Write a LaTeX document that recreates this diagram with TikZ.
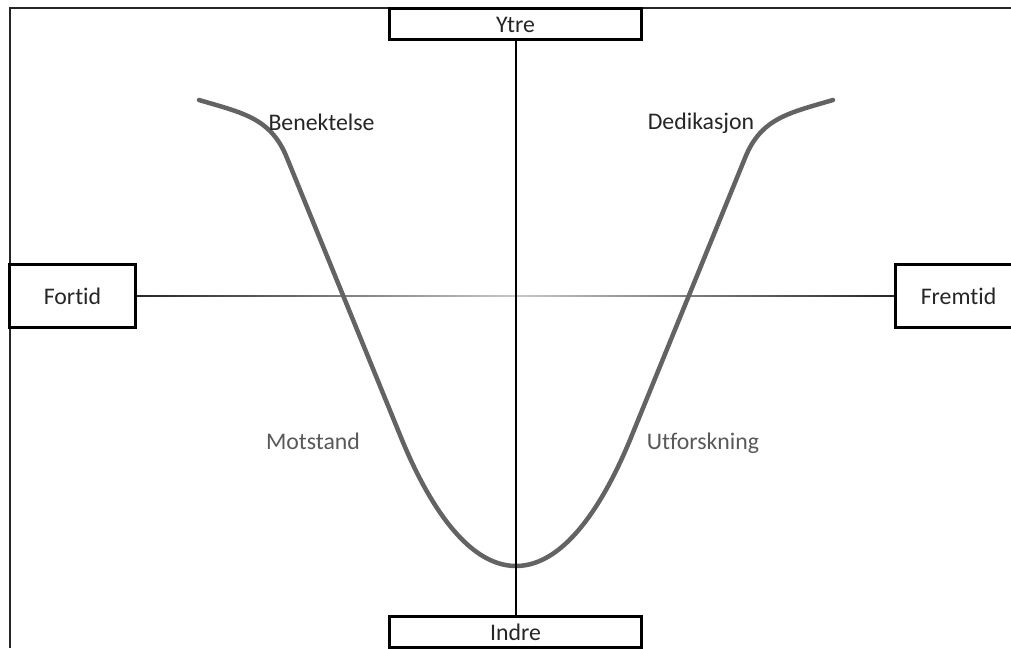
\documentclass[tikz,border=0pt]{standalone}
\usepackage{fontspec}
\setmainfont[Ligatures=CommonOff]{Carlito}
\definecolor{curvegray}{HTML}{636363}
\definecolor{labeldark}{HTML}{262626}
\definecolor{labelgray}{HTML}{595959}
\tikzset{
  boxnode/.style={draw=black, line width=3pt, fill=white, inner sep=0pt,
    font=\fontsize{23.8}{28}\selectfont, text=labeldark,
    text height=17pt, text depth=0pt, align=center},
  wideboxnode/.style={boxnode, minimum width=252pt, minimum height=31.5pt},
  sideboxnode/.style={boxnode, minimum width=126pt, minimum height=63pt},
  phaselabel/.style={inner sep=0pt, anchor=base, font=\fontsize{23.8}{28}\selectfont},
  framestroke/.style={line width=1.8pt, draw=black!85},
  axisstroke/.style={line width=2pt, draw=black},
  journey/.style={line width=4.5pt, draw=curvegray, line cap=round, line join=round}
}
\begin{document}
\begin{tikzpicture}[x=1pt, y=-1pt]
\clip (0,0) rectangle (1011,648);
\fill[white] (0,0) rectangle (1011,648);
% frame
\coordinate (FTL) at (10,8);
\coordinate (FTR) at (1011,8);
\coordinate (FBL) at (10,648);
\draw[framestroke] (FTR) -- (FTL) -- (FBL);
% center
\coordinate (O) at (516,296);
% boxes
\node[wideboxnode] (Ytre) at (515.5,24.2) {Ytre};
\node[wideboxnode] (Indre) at (515.5,632.2) {Indre};
\node[sideboxnode] (Fortid) at (72.5,296) {Fortid};
\node[sideboxnode] (Fremtid) at (958.5,296) {Fremtid};
% horizontal axis with gradient
\shade[left color=black!85, right color=black!22]
  ([yshift=-0.9pt]Fortid.east) rectangle ([yshift=0.9pt]O);
\shade[left color=black!22, right color=black!85]
  ([yshift=-0.9pt]O) rectangle ([yshift=0.9pt]Fremtid.west);
% curve
\coordinate (CL) at (199,100);
\coordinate (CR) at (833,100);
\draw[journey] (CL) .. controls (243,113) and (271,118) .. (287,158)
  -- (400,435) .. controls (425,497) and (465,566) .. (516,566)
  .. controls (567,566) and (607,497) .. (632,435)
  -- (745,158) .. controls (761,118) and (789,113) .. (CR);
% vertical axis
\draw[axisstroke] (Ytre.south) -- (Indre.north);
% labels
\node[phaselabel, text=labeldark] (Benektelse) at (321.5,130) {Benektelse};
\node[phaselabel, text=labeldark] (Dedikasjon) at (701,129) {Dedikasjon};
\node[phaselabel, text=labelgray] (Motstand) at (313,449) {Motstand};
\node[phaselabel, text=labelgray] (Utforskning) at (703,449) {Utforskning};
\end{tikzpicture}
\end{document}
